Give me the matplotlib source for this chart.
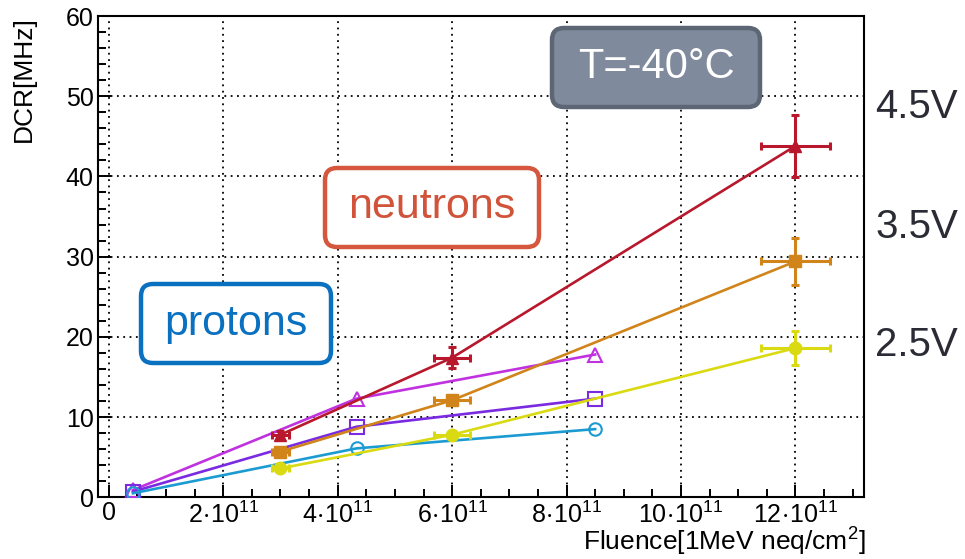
import numpy as np
import matplotlib.pyplot as plt
from matplotlib.patches import FancyBboxPatch
from matplotlib.transforms import IdentityTransform
from matplotlib.ticker import MultipleLocator, FixedLocator

plt.rcParams['font.family'] = ['Liberation Sans', 'DejaVu Sans']
plt.rcParams['mathtext.fontset'] = 'custom'
plt.rcParams['mathtext.rm'] = 'Liberation Sans'
plt.rcParams['mathtext.it'] = 'Liberation Sans'

# neutrons (filled markers, with errors)
n_x = [3e11, 6e11, 12e11]
n_xerr = [0.15e11, 0.32e11, 0.6e11]
n45_y = [7.8, 17.4, 43.8]
n45_yerr = [0.5, 1.3, 3.9]
n35_y = [5.7, 12.1, 29.4]
n35_yerr = [0.4, 0.6, 2.9]
n25_y = [3.6, 7.8, 18.6]
n25_yerr = [0.3, 0.4, 2.1]

# protons (open markers)
p_x = [0.42e11, 4.33e11, 8.5e11]
p45_y = [0.9, 12.3, 17.8]
p35_y = [0.7, 8.8, 12.3]
p25_y = [0.5, 6.1, 8.5]

xticks = [0, 2e11, 4e11, 6e11, 8e11, 10e11, 12e11]
xticklabels = ['0'] + [r'$\mathregular{%d\!\cdot\!10^{11}}$' % v for v in [2, 4, 6, 8, 10, 12]]

W, H = 965, 559
fig = plt.figure(figsize=(9.65, 5.59), dpi=100)
ax = fig.add_axes([98 / W, 1 - 497.3 / H, (864 - 98) / W, (497.3 - 16) / H])

red, orange, yellow = '#b8172c', '#d0841a', '#dada12'
mag, purp, cyan = '#c032e0', '#7a2ae0', '#1c9bd2'

lw = 1.9
ax.plot(p_x, p45_y, color=mag, lw=lw, marker='^', ms=10, mfc='none', mew=1.5, zorder=3)
ax.plot(p_x, p35_y, color=purp, lw=lw, marker='s', ms=10, mfc='none', mew=1.5, zorder=3)
ax.plot(p_x, p25_y, color=cyan, lw=lw, marker='o', ms=9, mfc='none', mew=1.5, zorder=3)

ax.errorbar(n_x, n45_y, xerr=n_xerr, yerr=n45_yerr, color=red, lw=lw, elinewidth=2.2,
            capsize=3, capthick=2.2, marker='^', ms=8, zorder=4)
ax.errorbar(n_x, n35_y, xerr=n_xerr, yerr=n35_yerr, color=orange, lw=lw, elinewidth=2.2,
            capsize=3, capthick=2.2, marker='s', ms=8, zorder=4)
ax.errorbar(n_x, n25_y, xerr=n_xerr, yerr=n25_yerr, color=yellow, lw=lw, elinewidth=2.2,
            capsize=3, capthick=2.2, marker='o', ms=9, zorder=4)

ax.set_xlim(-0.19e11, 13.2e11)
ax.set_ylim(0, 60)
ax.xaxis.set_major_locator(FixedLocator(xticks))
ax.set_xticklabels(xticklabels)
ax.xaxis.set_minor_locator(MultipleLocator(0.5e11))
ax.yaxis.set_major_locator(MultipleLocator(10))
ax.yaxis.set_minor_locator(MultipleLocator(2))
ax.tick_params(which='both', direction='in', top=False, right=False, width=1.4,
               labelsize=18, colors='black')
ax.tick_params(which='major', length=9)
ax.tick_params(which='minor', length=6)
ax.tick_params(axis='x', pad=3)
ax.tick_params(axis='y', pad=3)
ax.grid(True, which='major', color='black', linestyle=(0, (1, 2.5)), lw=1.3)
for s in ax.spines.values():
    s.set_linewidth(1.5)

fig.text(24 / W, 1 - 16 / H, 'DCR[MHz]', rotation=90, ha='center', va='top', fontsize=19)
fig.text(866 / W, 1 - 558 / H, r'Fluence[1MeV neq/cm$^{2}$]', ha='right', va='bottom', fontsize=19)

# annotation boxes, pixel coordinates (x0, y0_top, x1, y1_bottom)
def box(x0, y0, x1, y1, txt, fc, ec, tc, fs):
    p = FancyBboxPatch((x0, H - y1), x1 - x0, y1 - y0, boxstyle='round,pad=0,rounding_size=12',
                       fc=fc, ec=ec, lw=3.2, transform=IdentityTransform(), zorder=10)
    fig.patches.append(p)
    fig.text((x0 + x1) / 2 / W, 1 - (y0 + y1) / 2 / H, txt, ha='center', va='center',
             color=tc, fontsize=fs, zorder=11)

box(552, 28, 760, 107, 'T=-40°C', '#7f8a9c', '#5d6675', 'white', 30)
box(325, 168, 539, 247, 'neutrons', 'white', '#d4573e', '#d0533a', 31)
box(141, 284, 331, 363, 'protons', 'white', '#0a70c0', '#0a70c0', 31)

for lab, yp in [('4.5V', 107), ('3.5V', 227), ('2.5V', 345)]:
    fig.text(875 / W, 1 - yp / H, lab, ha='left', va='center', fontsize=29, color='#2b2b35')

fig.savefig('out.png', dpi=100)
